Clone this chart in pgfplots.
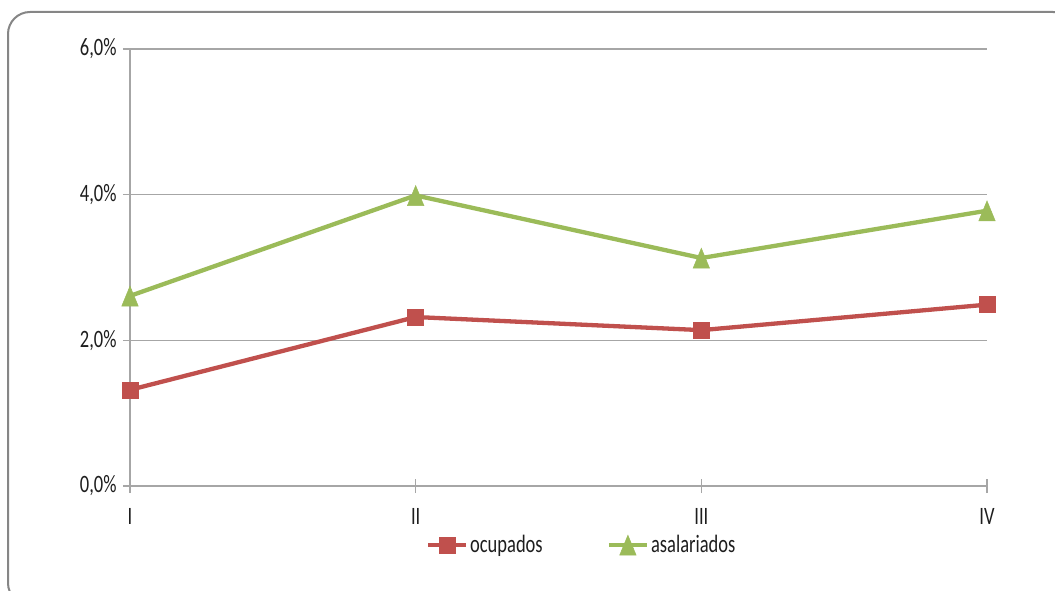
\documentclass[border=0pt]{standalone}
\usepackage{fontspec}
\setmainfont{Carlito}[FakeStretch=0.74]
\usepackage{pgfplots}
\pgfplotsset{compat=1.18}
\definecolor{ocred}{RGB}{192,80,77}
\definecolor{asgreen}{RGB}{155,187,89}
\definecolor{gridgray}{RGB}{166,166,166}
\definecolor{framegray}{RGB}{134,134,134}
\definecolor{txt}{RGB}{30,30,30}
\begin{document}
\begin{tikzpicture}[x=1pt,y=1pt]
\useasboundingbox (0,0) rectangle (1055,590);
\begin{scope}
\clip (0,0) rectangle (1055,590);
\draw[framegray, line width=2pt, rounded corners=22pt] (8,-15) rectangle (1075,578);
\end{scope}
\begin{axis}[
  at={(130pt,104pt)}, anchor=south west,
  scale only axis, width=857pt, height=437pt,
  xmin=0, xmax=3, ymin=0, ymax=6,
  xtick={0,1,2,3}, xticklabels={I,II,III,IV},
  ytick={0,2,4,6}, yticklabels={{0,0\%},{2,0\%},{4,0\%},{6,0\%}},
  axis x line*=bottom, axis y line*=left,
  axis line style={gridgray, line width=1.3pt},
  ymajorgrids, grid style={gridgray, line width=1.3pt},
  tick style={gridgray, line width=1.3pt},
  tick align=center, major tick length=14pt,
  tick label style={font=\fontsize{25}{29}\selectfont, text=txt},
  yticklabel style={xshift=-3pt},
  xticklabel style={yshift=-12pt},
  clip=false,
  legend columns=2,
  legend style={draw=none, fill=none, font=\fontsize{25}{29}\selectfont, text=txt,
    at={(axis description cs:0.527,-0.135)}, anchor=center,
    /tikz/every even column/.append style={column sep=62pt}},
  legend image code/.code={\draw[mark repeat=2,mark phase=2] plot coordinates {(0pt,0pt) (19pt,0pt) (38pt,0pt)};},
]
\addplot[ocred, line width=4.3pt, mark=square*, mark size=8pt, mark options={solid, line width=0.5pt}]
  coordinates {(0,1.32) (1,2.32) (2,2.14) (3,2.49)};
\addlegendentry{ocupados}
\addplot[asgreen, line width=4.3pt, mark=triangle*, mark size=9.5pt, mark options={solid, line width=0.5pt, yshift=-3.5pt, yscale=1.4}]
  coordinates {(0,2.61) (1,3.99) (2,3.13) (3,3.78)};
\addlegendentry{asalariados}
\end{axis}
\end{tikzpicture}
\end{document}
